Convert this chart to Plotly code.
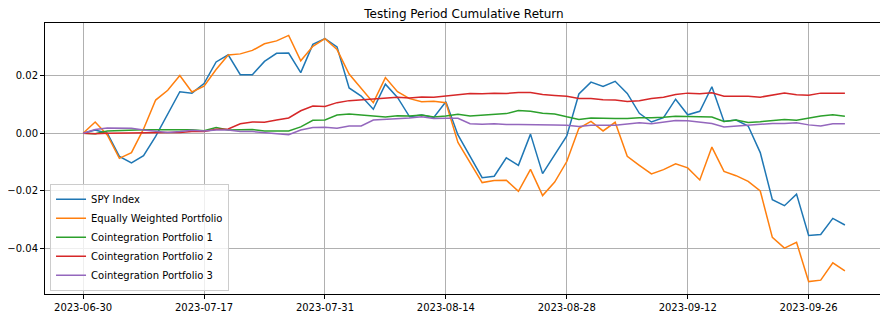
import pandas as pd
import plotly.graph_objects as go

# Trading days 2023-06-30 .. 2023-09-29 (US market holidays removed)
holidays = ["2023-07-04", "2023-09-04"]
dates = [d.strftime("%Y-%m-%d") for d in pd.bdate_range("2023-06-30", "2023-09-29")
         if d.strftime("%Y-%m-%d") not in holidays]

spy = [0.0000, 0.0011, 0.0000, -0.0080, -0.0103, -0.0078, -0.0011, 0.0066, 0.0144, 0.0139,
       0.0172, 0.0247, 0.0272, 0.0203, 0.0203, 0.0249, 0.0277, 0.0278, 0.0210, 0.0308,
       0.0328, 0.0299, 0.0157, 0.0129, 0.0083, 0.0170, 0.0124, 0.0057, 0.0063, 0.0055,
       0.0109, -0.0006, -0.0080, -0.0154, -0.0149, -0.0085, -0.0111, -0.0003, -0.0140, -0.0075,
       -0.0009, 0.0136, 0.0177, 0.0162, 0.0180, 0.0138, 0.0069, 0.0039, 0.0054, 0.0118,
       0.0064, 0.0076, 0.0161, 0.0041, 0.0046, 0.0025, -0.0067, -0.0230, -0.0251, -0.0211,
       -0.0354, -0.0351, -0.0295, -0.0318]

equal_w = [0.0000, 0.0039, -0.0006, -0.0087, -0.0067, 0.0015, 0.0115, 0.0149, 0.0200, 0.0143,
           0.0163, 0.0221, 0.0271, 0.0275, 0.0287, 0.0310, 0.0320, 0.0339, 0.0251, 0.0301,
           0.0328, 0.0290, 0.0205, 0.0155, 0.0106, 0.0193, 0.0144, 0.0120, 0.0109, 0.0111,
           0.0106, -0.0032, -0.0103, -0.0171, -0.0164, -0.0163, -0.0201, -0.0125, -0.0216, -0.0169,
           -0.0098, 0.0017, 0.0041, 0.0008, 0.0038, -0.0080, -0.0111, -0.0141, -0.0126, -0.0106,
           -0.0120, -0.0162, -0.0048, -0.0132, -0.0147, -0.0167, -0.0200, -0.0361, -0.0398, -0.0378,
           -0.0514, -0.0509, -0.0449, -0.0477]

coint1 = [0.0000, -0.0002, 0.0008, 0.0010, 0.0012, 0.0012, 0.0012, 0.0012, 0.0012, 0.0012,
          0.0009, 0.0020, 0.0011, 0.0011, 0.0013, 0.0008, 0.0008, 0.0008, 0.0022, 0.0045,
          0.0046, 0.0063, 0.0067, 0.0063, 0.0060, 0.0056, 0.0061, 0.0060, 0.0063, 0.0056,
          0.0060, 0.0066, 0.0060, 0.0062, 0.0064, 0.0068, 0.0079, 0.0076, 0.0069, 0.0067,
          0.0057, 0.0048, 0.0053, 0.0051, 0.0051, 0.0051, 0.0054, 0.0054, 0.0055, 0.0059,
          0.0057, 0.0057, 0.0056, 0.0041, 0.0046, 0.0037, 0.0040, 0.0045, 0.0048, 0.0045,
          0.0052, 0.0060, 0.0064, 0.0059]

coint2 = [0.0000, -0.0002, 0.0000, 0.0001, 0.0001, 0.0001, 0.0002, 0.0003, 0.0003, 0.0006,
          0.0006, 0.0014, 0.0015, 0.0033, 0.0039, 0.0038, 0.0046, 0.0053, 0.0078, 0.0094,
          0.0093, 0.0106, 0.0113, 0.0116, 0.0117, 0.0122, 0.0125, 0.0122, 0.0126, 0.0125,
          0.0129, 0.0133, 0.0138, 0.0137, 0.0139, 0.0138, 0.0141, 0.0141, 0.0134, 0.0131,
          0.0128, 0.0120, 0.0120, 0.0116, 0.0115, 0.0110, 0.0113, 0.0120, 0.0125, 0.0134,
          0.0139, 0.0137, 0.0140, 0.0128, 0.0129, 0.0128, 0.0125, 0.0132, 0.0139, 0.0133,
          0.0132, 0.0139, 0.0139, 0.0139]

coint3 = [0.0000, 0.0013, 0.0018, 0.0018, 0.0017, 0.0011, 0.0006, 0.0003, 0.0006, 0.0010,
          0.0008, 0.0011, 0.0011, 0.0006, 0.0006, 0.0003, -0.0001, -0.0005, 0.0011, 0.0020,
          0.0021, 0.0017, 0.0025, 0.0025, 0.0046, 0.0048, 0.0052, 0.0053, 0.0057, 0.0051,
          0.0052, 0.0052, 0.0033, 0.0031, 0.0033, 0.0030, 0.0030, 0.0030, 0.0031, 0.0029,
          0.0028, 0.0023, 0.0028, 0.0029, 0.0028, 0.0032, 0.0036, 0.0033, 0.0039, 0.0044,
          0.0043, 0.0039, 0.0034, 0.0022, 0.0025, 0.0028, 0.0033, 0.0034, 0.0034, 0.0036,
          0.0029, 0.0025, 0.0033, 0.0033]

series_names = ["SPY Index", "Equally Weighted Portfolio", "Cointegration Portfolio 1",
                "Cointegration Portfolio 2", "Cointegration Portfolio 3"]
series_values = [spy, equal_w, coint1, coint2, coint3]
colors = ["#1f77b4", "#ff7f0e", "#2ca02c", "#d62728", "#9467bd"]

y_tick_vals = [-0.04, -0.02, 0.00, 0.02]
x_tick_labels = dates[::10]

fig = go.Figure()
for name, vals, c in zip(series_names, series_values, colors):
    fig.add_trace(go.Scatter(x=dates, y=vals, mode="lines", name=name,
                             line=dict(color=c, width=1.5)))

n = len(dates)
# The page body has an 8px margin, so the figure is made 8px smaller on each side.
fig.update_layout(
    width=880, height=311,
    margin=dict(l=37, r=5, t=15, b=25, autoexpand=False),
    paper_bgcolor="white", plot_bgcolor="white",
    font=dict(family="DejaVu Sans", size=10, color="black"),
    title=dict(text="Testing Period Cumulative Return", x=0.5, xref="paper",
               xanchor="center", y=1, yref="paper", yanchor="bottom", pad=dict(b=5),
               font=dict(size=12, color="black")),
    showlegend=True,
    legend=dict(x=0.006, y=0.012, xanchor="left", yanchor="bottom",
                bgcolor="rgba(255,255,255,0.8)", bordercolor="#cccccc", borderwidth=1,
                font=dict(size=10), itemwidth=30, tracegroupgap=0),
)
fig.update_xaxes(type="category", range=[-0.05 * (n - 1), (n - 1) * 1.05],
                 tickmode="array", tickvals=x_tick_labels, ticktext=x_tick_labels,
                 automargin=False,
                 showgrid=True, gridcolor="#b0b0b0", gridwidth=0.8,
                 showline=True, linecolor="black", linewidth=1, mirror=True,
                 ticks="outside", ticklen=4, tickcolor="black", zeroline=False)
fig.update_yaxes(range=[-0.0557, 0.0382], tickmode="array", tickvals=y_tick_vals,
                 tickformat=".2f", automargin=False,
                 showgrid=True, gridcolor="#b0b0b0", gridwidth=0.8,
                 showline=True, linecolor="black", linewidth=1, mirror=True,
                 ticks="outside", ticklen=4, tickcolor="black", zeroline=False)

fig.write_html("out.html")
